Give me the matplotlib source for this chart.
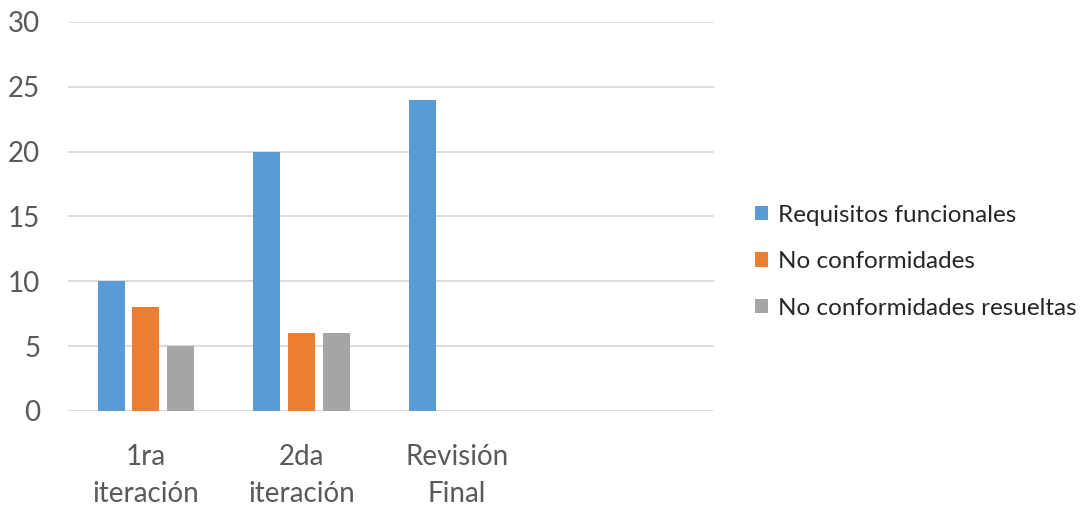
import matplotlib.pyplot as plt
import numpy as np

categories = ['1ra\niteración', '2da\niteración', 'Revisión\nFinal']
series_names = ['Requisitos funcionales', 'No conformidades', 'No conformidades resueltas']
requisitos = [10, 20, 24]
no_conformidades = [8, 6, 0]
resueltas = [5, 6, 0]
y_ticks = [0, 5, 10, 15, 20, 25, 30]

colors = ['#5B9BD5', '#ED7D31', '#A5A5A5']
font = ['Lato', 'DejaVu Sans']
plt.rcParams['font.family'] = font

fig = plt.figure(figsize=(10.83, 5.08), dpi=100)
ax = fig.add_axes([0.0628, 0.191, 0.5965, 0.766])

x = np.arange(len(categories))
w = 0.174
step = 0.222
for i, (vals, name) in enumerate(zip([requisitos, no_conformidades, resueltas], series_names)):
    ax.bar(x + (i - 1) * step, vals, width=w, color=colors[i], label=name, zorder=3)

ax.set_xlim(-0.5, 3.65)
ax.set_ylim(0, 30)
ax.set_yticks(y_ticks)
ax.yaxis.grid(True, color='#d9d9d9', linewidth=1.3, zorder=0)
ax.set_axisbelow(True)
for s in ax.spines.values():
    s.set_visible(False)
ax.tick_params(axis='y', length=0, pad=20, labelsize=20, labelcolor='#595959')
ax.tick_params(axis='x', length=0, pad=24, labelsize=20, labelcolor='#595959')
ax.set_xticks(x)
ax.set_xticklabels(categories, linespacing=1.5)

leg = fig.legend(loc='center left', bbox_to_anchor=(0.677, 0.485), frameon=False,
                 fontsize=17.5, handlelength=0.55, handleheight=0.55, handletextpad=0.4,
                 labelspacing=1.05, labelcolor='#262626')

fig.savefig('out.png', dpi=100)
